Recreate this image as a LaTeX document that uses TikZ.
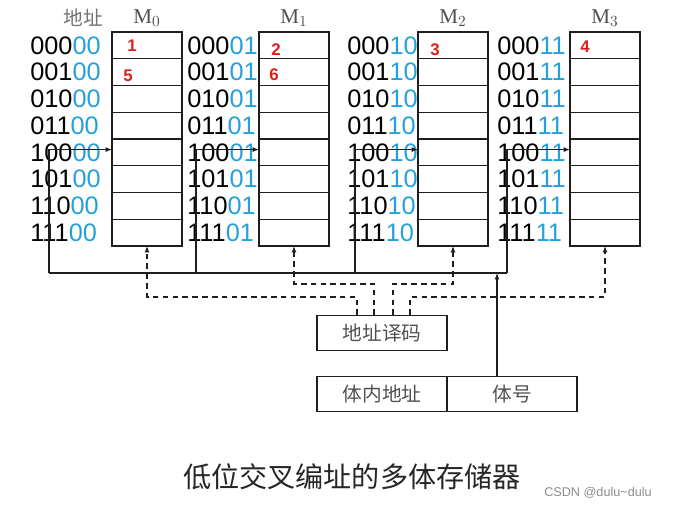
\documentclass[tikz,border=0pt]{standalone}
\usepackage{fontspec}
\setmainfont{Liberation Serif}
\newfontfamily\addrfont{Liberation Sans}
\newfontfamily\cjk{Noto Sans CJK SC}
\usepackage{xcolor}
\usetikzlibrary{arrows.meta,positioning}
\definecolor{addrblue}{RGB}{38,160,218}
\definecolor{linecol}{RGB}{30,30,30}
\definecolor{numred}{RGB}{225,30,30}
\definecolor{labgray}{RGB}{80,80,80}

\tikzset{
  wire/.style={draw=linecol,line width=0.8pt},
  sel/.style={draw=linecol,line width=0.8pt,dash pattern=on 4pt off 3pt,
              -{Latex[length=4.5pt,width=3.5pt]}},
  cell/.style={draw=linecol,line width=0.8pt,minimum width=1.75cm,
               minimum height=0.669cm,inner sep=0pt,outer sep=0pt},
  addr/.style={anchor=west,inner sep=0pt,font=\addrfont\fontsize{18pt}{18pt}\selectfont},
  bankhead/.style={font=\fontsize{15pt}{15pt}\selectfont,text=labgray},
  numtag/.style={font=\addrfont\bfseries\fontsize{12pt}{12pt}\selectfont,text=numred},
  cjkbox/.style={draw=linecol,line width=0.8pt,minimum width=3.25cm,
                 minimum height=0.87cm,font=\cjk\fontsize{14pt}{14pt}\selectfont,
                 text=labgray}
}

\begin{document}
\begin{tikzpicture}[x=0.025cm,y=-0.025cm]
  \useasboundingbox (0,0) rectangle (680,509);

  % banks M0..M3 with their addresses
  \node[font=\cjk\fontsize{14pt}{14pt}\selectfont,text=black!55] (addrlab) at (83,18) {地址};
  \foreach \bk/\cx/\ax/\lo in {0/147/30/00,1/294/187/01,2/453/347/10,3/605/497/11} {
    \node[bankhead] (h\bk) at (\cx,18) {$\mathrm{M}_{\bk}$};
    \foreach \hi [count=\rw] in {000,001,010,011,100,101,110,111} {
      \node[cell] (m\bk-\rw) at (\cx,{32+26.75*\rw-13.375}) {};
      \node[addr] (a\bk-\rw) at (\ax,{32+26.75*\rw-13.375}) {\hi\textcolor{addrblue}{\lo}};
    }
  }

  % contents
  \node[numtag] (n1) at (132,46) {1};
  \node[numtag] (n5) at (128,76) {5};
  \node[numtag] (n2) at (276,50) {2};
  \node[numtag] (n6) at (274,75) {6};
  \node[numtag] (n3) at (435,50) {3};
  \node[numtag] (n4) at (585,47) {4};

  % decoder and address register
  \node[cjkbox] (dec) at (382,333) {地址译码};
  \node[cjkbox] (inner) at (382,394) {体内地址};
  \node[cjkbox] (bankno) at (512,394) {体号};

  % bank number bus
  \foreach \bk/\vx in {0/49,1/196,2/355,3/507} {
    \coordinate (v\bk) at (\vx,273);
    \draw[wire,-{Latex[length=4.5pt,width=3.5pt]}] (v\bk) |- ([yshift=2pt]m\bk-5.west);
  }
  \draw[wire] (v0) -- (v3);
  \coordinate (busin) at (497,273);
  \draw[wire,-{Latex[length=4.5pt,width=3.5pt]}] (busin |- bankno.north) -- (busin);

  % decoder outputs
  \coordinate (lo) at (0,297);
  \coordinate (hi) at (0,284);
  \coordinate (d0) at (357,315);
  \coordinate (d1) at (374,315);
  \coordinate (d2) at (393,315);
  \coordinate (d3) at (410,315);
  \draw[sel] (d0) -- (d0 |- lo) -| (m0-8.south);
  \draw[sel] (d1) -- (d1 |- hi) -| (m1-8.south);
  \draw[sel] (d2) -- (d2 |- hi) -| (m2-8.south);
  \draw[sel] (d3) -- (d3 |- lo) -| (m3-8.south);

  % caption
  \node[font=\cjk\fontsize{20pt}{20pt}\selectfont,text=black!85] (title) at (352,477)
    {低位交叉编址的多体存储器};
  \node[font=\addrfont\fontsize{9pt}{9pt}\selectfont,text=black!45] (wm) at (598,493)
    {CSDN @dulu\textasciitilde dulu};
\end{tikzpicture}
\end{document}
